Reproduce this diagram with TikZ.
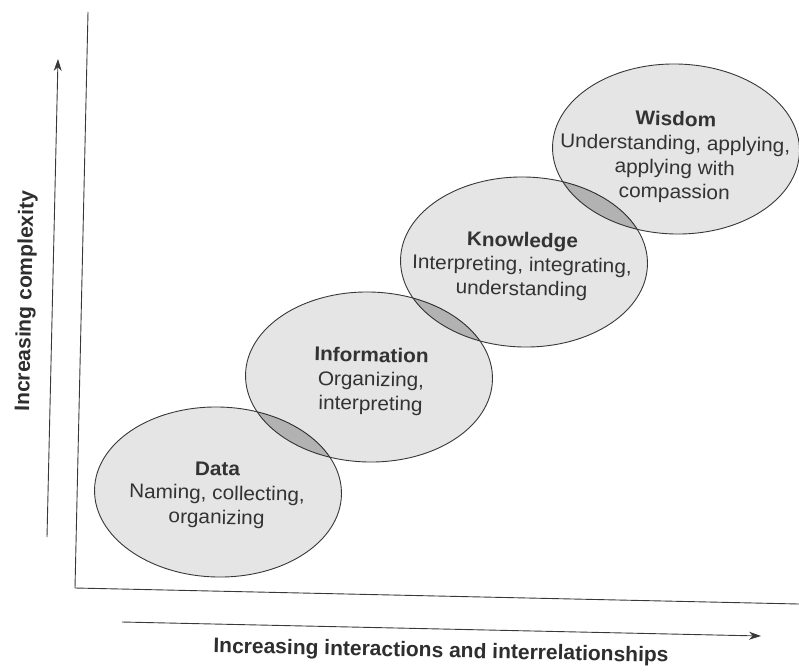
\documentclass[tikz,border=0pt]{standalone}
\usepackage{fontspec}
\setmainfont{Liberation Sans}
\usetikzlibrary{shapes.geometric,arrows.meta}
\begin{document}
\begin{tikzpicture}[x=1pt,y=-1pt,
  ink/.style={draw=black!78, line width=0.9pt},
  stage/.style={ellipse, ink, fill=black, fill opacity=0.1,
    minimum width=247pt, minimum height=170pt, inner sep=0pt, rotate=-1.2},
  lens/.style={fill=black, fill opacity=0.13},
  stagetext/.style={align=center, text=black!80, inner sep=0pt, rotate=-1.2,
    font=\addfontfeatures{FakeStretch=1.05}\fontsize{19.8}{24.2}\selectfont},
  axislabel/.style={text=black!82, inner sep=0pt,
    font=\bfseries\fontsize{21}{24}\selectfont},
  axarrow/.style={ink, -{Stealth[length=12pt,width=8pt]}}]
\useasboundingbox (0,0) rectangle (799,671);
\fill[white] (0,0) rectangle (799,671);
% axes
\coordinate (vtop) at (88,12);
\coordinate (origin) at (75,588);
\coordinate (hend) at (799,604);
\draw[ink] (vtop) -- (origin) -- (hend);
% direction arrows
\coordinate (vs) at (47,537);
\coordinate (ve) at (58,59);
\coordinate (hs) at (122,622);
\coordinate (he) at (761,636);
\draw[axarrow] (vs) -- (ve);
\draw[axarrow] (hs) -- (he);
% ellipses
\node[stage] (data) at (218,492) {};
\node[stage] (info) at (369,377) {};
\node[stage] (know) at (524,262) {};
\node[stage] (wis) at (676,149) {};
% darker overlaps
\foreach \a/\b in {data/info, info/know, know/wis}{
  \begin{scope}
    \clip[rotate around={-1.2:(\a.center)}] (\a.center) ellipse [x radius=123.5pt, y radius=85pt];
    \fill[lens, rotate around={-1.2:(\b.center)}] (\b.center) ellipse [x radius=123.5pt, y radius=85pt];
  \end{scope}
}
% texts
\node[stagetext] (dataT) at (217,495) {\textbf{Data}\\Naming, collecting,\\organizing};
\node[stagetext] (infoT) at (371,381) {\textbf{Information}\\Organizing,\\interpreting};
\node[stagetext] (knowT) at (522,266) {\textbf{Knowledge}\\Interpreting, integrating,\\understanding};
\node[stagetext] (wisT) at (675,157) {\textbf{Wisdom}\\Understanding, applying,\\applying with\\compassion};
% axis labels
\node[axislabel, rotate=88.8] (ylab) at (26,301) {Increasing complexity};
\node[axislabel, rotate=-1.2] (xlab) at (441,652) {Increasing interactions and interrelationships};
\end{tikzpicture}
\end{document}
